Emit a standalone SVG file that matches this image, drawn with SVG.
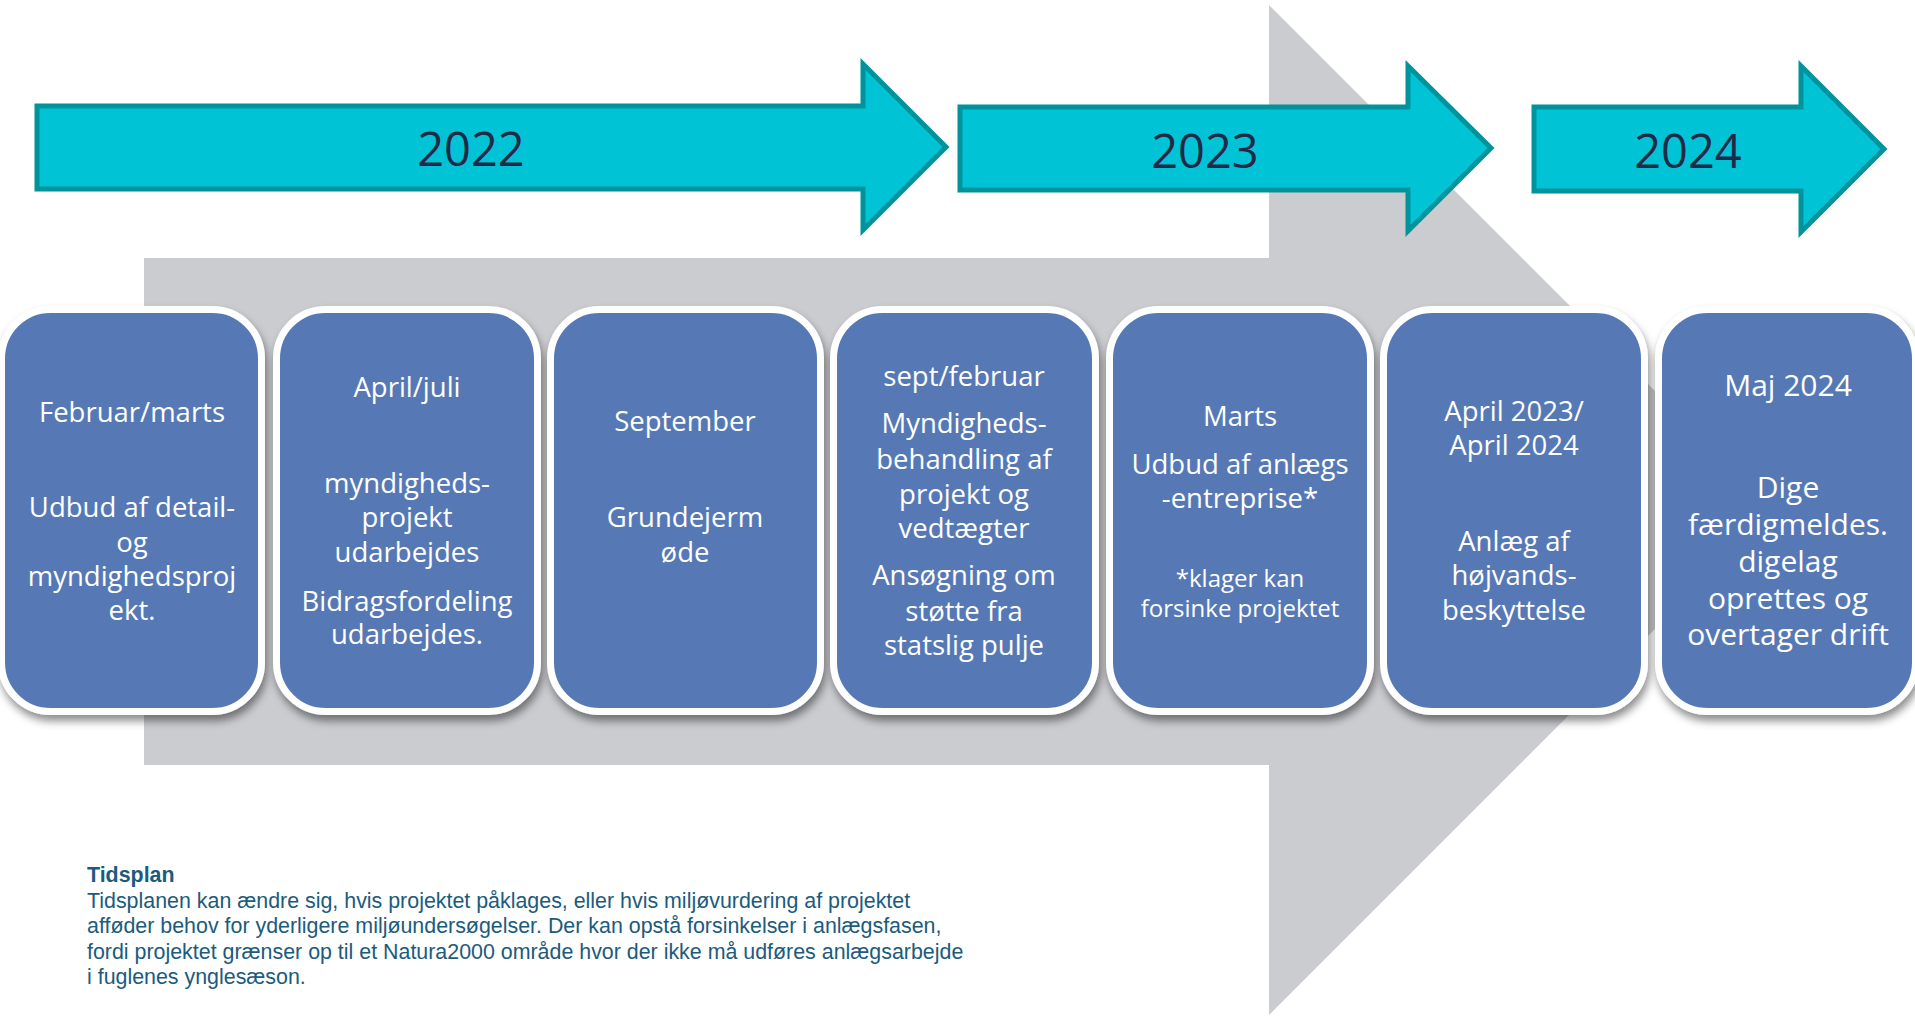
<svg xmlns="http://www.w3.org/2000/svg" width="1915" height="1016" viewBox="0 0 1915 1016">
<style>
.yr{fill:#00C4D6;stroke:#00939B;stroke-width:5;stroke-linejoin:miter}
.yt{font-family:"Open Sans","Noto Sans",sans-serif;font-size:47px;fill:#1F2A48;text-anchor:middle}
.box{fill:#5779B5;stroke:#FFFFFF;stroke-width:7}
.bt{font-family:"Open Sans","Noto Sans",sans-serif;font-size:27.5px;fill:#FFFFFF;text-anchor:middle}
.sm{font-size:24px}
.big{font-size:30px}
.note{font-family:"Liberation Sans",Arial,sans-serif;font-size:21.4px;fill:#1B5B7D}
</style>
<defs>
<filter id="sh" x="-10%" y="-10%" width="125%" height="125%">
<feDropShadow dx="2" dy="6" stdDeviation="4" flood-color="#000000" flood-opacity="0.45"/>
</filter>
</defs>
<rect width="1915" height="1016" fill="#FFFFFF"/>
<g id="background-arrow">
<polygon points="144,258 1269,258 1269,5 1774,510 1269,1015 1269,765 144,765" fill="#CBCCD0"/>
</g>
<g id="year-2022">
<polygon class="yr" points="37,106 863,106 863,64 946,147 863,230 863,189 37,189"/>
<text class="yt" x="471" y="166">2022</text>
</g>
<g id="year-2023">
<polygon class="yr" points="960,107 1408,107 1408,66 1491,148 1408,231 1408,190 960,190"/>
<text class="yt" x="1205" y="168">2023</text>
</g>
<g id="year-2024">
<polygon class="yr" points="1534,107 1801,107 1801,66 1884,149 1801,232 1801,191 1534,191"/>
<text class="yt" x="1688" y="168">2024</text>
</g>
<g id="connectors"></g>
<g id="box1">
<rect class="box" filter="url(#sh)" x="1.5" y="309.5" width="260" height="402" rx="49"/>
<text class="bt"><tspan x="132" y="422">Februar/marts</tspan><tspan x="132" y="517">Udbud af detail-</tspan><tspan x="132" y="552">og</tspan><tspan x="132" y="586">myndighedsproj</tspan><tspan x="132" y="620">ekt.</tspan></text>
</g>
<g id="box2">
<rect class="box" filter="url(#sh)" x="276.5" y="309.5" width="261" height="402" rx="49"/>
<text class="bt"><tspan x="407" y="397">April/juli</tspan><tspan x="407" y="493">myndigheds-</tspan><tspan x="407" y="527">projekt</tspan><tspan x="407" y="562">udarbejdes</tspan><tspan x="407" y="611">Bidragsfordeling</tspan><tspan x="407" y="644">udarbejdes.</tspan></text>
</g>
<g id="box3">
<rect class="box" filter="url(#sh)" x="550.5" y="309.5" width="270" height="402" rx="49"/>
<text class="bt"><tspan x="685" y="431">September</tspan><tspan x="685" y="527">Grundejerm</tspan><tspan x="685" y="562">øde</tspan></text>
</g>
<g id="box4">
<rect class="box" filter="url(#sh)" x="833.5" y="309.5" width="262" height="402" rx="49"/>
<text class="bt"><tspan x="964" y="386">sept/februar</tspan><tspan x="964" y="433">Myndigheds-</tspan><tspan x="964" y="469">behandling af</tspan><tspan x="964" y="504">projekt og</tspan><tspan x="964" y="538">vedtægter</tspan><tspan x="964" y="585">Ansøgning om</tspan><tspan x="964" y="621">støtte fra</tspan><tspan x="964" y="655">statslig pulje</tspan></text>
</g>
<g id="box5">
<rect class="box" filter="url(#sh)" x="1109.5" y="309.5" width="261" height="402" rx="49"/>
<text class="bt"><tspan x="1240" y="426">Marts</tspan><tspan x="1240" y="474">Udbud af anlægs</tspan><tspan x="1240" y="508">-entreprise*</tspan><tspan class="sm" x="1240" y="587">*klager kan</tspan><tspan class="sm" x="1240" y="617">forsinke projektet</tspan></text>
</g>
<g id="box6">
<rect class="box" filter="url(#sh)" x="1383.5" y="309.5" width="261" height="402" rx="49"/>
<text class="bt"><tspan x="1514" y="421">April 2023/</tspan><tspan x="1514" y="455">April 2024</tspan><tspan x="1514" y="551">Anlæg af</tspan><tspan x="1514" y="585">højvands-</tspan><tspan x="1514" y="620">beskyttelse</tspan></text>
</g>
<g id="box7">
<rect class="box" filter="url(#sh)" x="1658.5" y="309.5" width="257" height="402" rx="49"/>
<text class="bt big"><tspan x="1788" y="396">Maj 2024</tspan><tspan x="1788" y="498">Dige</tspan><tspan x="1788" y="535">færdigmeldes.</tspan><tspan x="1788" y="572">digelag</tspan><tspan x="1788" y="609">oprettes og</tspan><tspan x="1788" y="645">overtager drift</tspan></text>
</g>
<g id="note">
<text class="note"><tspan x="87" y="882" font-weight="bold">Tidsplan</tspan><tspan x="87" y="907.5">Tidsplanen kan ændre sig, hvis projektet påklages, eller hvis miljøvurdering af projektet</tspan><tspan x="87" y="933">afføder behov for yderligere miljøundersøgelser. Der kan opstå forsinkelser i anlægsfasen,</tspan><tspan x="87" y="958.5">fordi projektet grænser op til et Natura2000 område hvor der ikke må udføres anlægsarbejde</tspan><tspan x="87" y="984">i fuglenes ynglesæson.</tspan></text>
</g>
</svg>
